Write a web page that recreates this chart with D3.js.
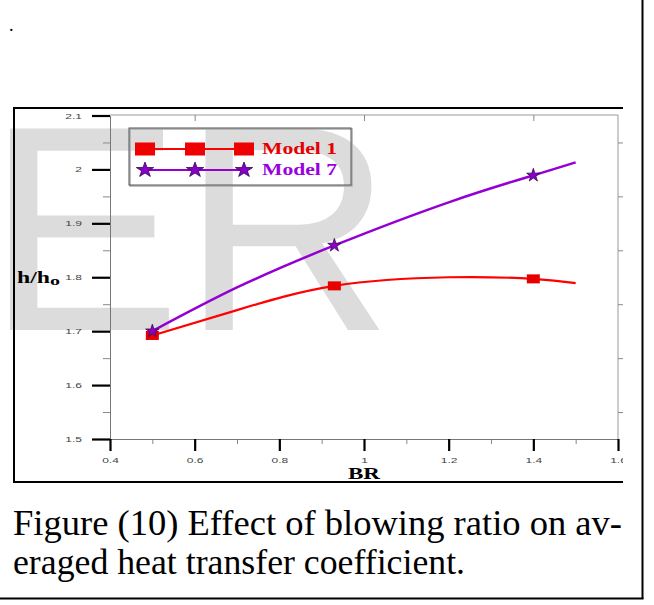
<!DOCTYPE html>
<html>
<head>
<meta charset="utf-8">
<script src="https://cdn.jsdelivr.net/npm/d3@7"></script>
<style>
  html, body { margin: 0; padding: 0; background: #fff; }
  svg { display: block; }
</style>
</head>
<body>
<div id="chart"></div>
<script>
// blowing ratio chart (Model 1 vs Model 7)

// marker points
const brPoints = [0.5, 0.93, 1.4];
const model1Points = [1.692, 1.784, 1.797];
const model7Points = [1.700, 1.859, 1.989];

// fitted curves
const brCurve = [0.5, 0.7, 0.93, 1.2, 1.4, 1.5];
const model1Curve = [1.692, 1.739, 1.784, 1.800, 1.797, 1.789];
const model7Curve = [1.700, 1.781, 1.859, 1.939, 1.989, 2.013];

const seriesNames = ["Model 1", "Model 7"];
const xTicks = [0.4, 0.6, 0.8, 1, 1.2, 1.4, 1.6];
const xMinorTicks = [0.5, 0.7, 0.9, 1.1, 1.3, 1.5];
const xTopTicks = [0.6, 1, 1.4];
const yTicks = [1.5, 1.6, 1.7, 1.8, 1.9, 2, 2.1];
const yMinorTicks = [1.55, 1.65, 1.75, 1.85, 1.95, 2.05];
const captionLines = ["Figure (10) Effect of blowing ratio on av-", "eraged heat transfer coefficient."];

const W = 654, H = 605;
const red = "#ff0000", purple = "#9400d3";
const serif = "'Liberation Serif', 'Times New Roman', Times, serif";
const sans = "'Liberation Sans', Arial, Helvetica, sans-serif";
const sx = 1.5; // the source picture is stretched sideways

const svg = d3.select("#chart").append("svg")
    .attr("width", W)
    .attr("height", H);

// page frame
svg.append("line").attr("x1", 642.5).attr("x2", 642.5).attr("y1", 0).attr("y2", 599)
    .attr("stroke", "#000").attr("stroke-width", 2);
svg.append("line").attr("x1", 0).attr("x2", 643.5).attr("y1", 598.5).attr("y2", 598.5)
    .attr("stroke", "#000").attr("stroke-width", 2);

svg.append("text")
    .attr("x", 9).attr("y", 31)
    .style("font-family", serif)
    .style("font-size", "18px")
    .text(".");

// chart box (cut off at the right)
svg.append("defs").append("clipPath").attr("id", "boxClip")
  .append("rect").attr("x", 0).attr("y", 100).attr("width", 623).attr("height", 390);

const box = svg.append("g").attr("clip-path", "url(#boxClip)");

// watermark
box.append("text")
    .attr("x", -14).attr("y", 330)
    .style("font-family", sans)
    .style("font-size", "293px")
    .style("fill", "#dcdcdc")
    .text("ER");

box.append("path")
    .attr("d", "M623,108 H14 V482 H623")
    .attr("fill", "none")
    .attr("stroke", "#000")
    .attr("stroke-width", 2);

const x = d3.scaleLinear().domain([0.4, 1.6]).range([110, 618]);
const y = d3.scaleLinear().domain([1.5, 2.1]).range([439, 115.5]);

// frame lines top and right
box.append("line").attr("x1", 110).attr("x2", 618).attr("y1", 115).attr("y2", 115)
    .attr("stroke", "#999");
box.append("line").attr("x1", 618).attr("x2", 618).attr("y1", 115).attr("y2", 439)
    .attr("stroke", "#999");

// minor ticks first
box.append("g").attr("transform", "translate(110,0)")
    .call(d3.axisLeft(y).tickValues(yMinorTicks).tickSize(7).tickFormat(""))
    .call(g => g.select(".domain").remove())
    .selectAll("line").attr("stroke", "#888");

box.append("g").attr("transform", "translate(618,0)")
    .call(d3.axisLeft(y).tickValues(yMinorTicks).tickSize(-9).tickFormat(""))
    .call(g => g.select(".domain").remove())
    .selectAll("line").attr("stroke", "#888");

box.append("g").attr("transform", "translate(0,439)")
    .call(d3.axisBottom(x).tickValues(xMinorTicks).tickSize(5).tickFormat(""))
    .call(g => g.select(".domain").remove())
    .selectAll("line").attr("stroke", "#888");

box.append("g").attr("transform", "translate(0,115)")
    .call(d3.axisTop(x).tickValues(xTopTicks).tickSize(-6).tickFormat(""))
    .call(g => g.select(".domain").remove())
    .selectAll("line").attr("stroke", "#888");

// major axes
const yAxisGroup = box.append("g").attr("transform", "translate(110,0)")
    .call(d3.axisLeft(y).tickValues(yTicks).tickSize(18).tickSizeOuter(0).tickFormat(d3.format("")));
yAxisGroup.select(".domain").attr("stroke", "#777");
yAxisGroup.selectAll(".tick line").attr("stroke", "#000").attr("stroke-width", 2.2);
yAxisGroup.selectAll("text")
    .attr("x", -28 / sx)
    .attr("transform", `scale(${sx},1)`)
    .style("font-family", sans)
    .style("font-size", "8px")
    .style("fill", "#444");

const xAxisGroup = box.append("g").attr("transform", "translate(0,439)")
    .call(d3.axisBottom(x).tickValues(xTicks).tickSize(12).tickSizeOuter(0).tickFormat(d3.format("")));
xAxisGroup.select(".domain").attr("stroke", "#777");
xAxisGroup.selectAll(".tick line").attr("stroke", "#000").attr("stroke-width", 2.2);
xAxisGroup.selectAll("text")
    .attr("y", 18)
    .attr("transform", `scale(${sx},1)`)
    .style("font-family", sans)
    .style("font-size", "8px")
    .style("fill", "#444");

// axis titles
const yTitle = box.append("text")
    .attr("x", 17).attr("y", 283)
    .style("font-family", serif)
    .style("font-weight", "bold")
    .style("font-size", "16px");
yTitle.append("tspan").attr("textLength", 33).attr("lengthAdjust", "spacingAndGlyphs").text("h/h");
yTitle.append("tspan").attr("dy", 2).style("font-size", "13px")
    .attr("textLength", 10).attr("lengthAdjust", "spacingAndGlyphs").text("o");

box.append("text")
    .attr("x", 348).attr("y", 479)
    .attr("textLength", 32).attr("lengthAdjust", "spacingAndGlyphs")
    .style("font-family", serif)
    .style("font-weight", "bold")
    .style("font-size", "16px")
    .text("BR");

// curves
const line = d3.line().curve(d3.curveNatural);

box.append("path")
    .attr("d", line(brCurve.map((b, i) => [x(b), y(model1Curve[i])])))
    .attr("fill", "none").attr("stroke", red).attr("stroke-width", 2.2);

box.append("path")
    .attr("d", line(brCurve.map((b, i) => [x(b), y(model7Curve[i])])))
    .attr("fill", "none").attr("stroke", purple).attr("stroke-width", 2.5);

box.selectAll("rect.m1")
    .data(brPoints.map((b, i) => [b, model1Points[i]]))
    .join("rect")
    .attr("class", "m1")
    .attr("x", d => x(d[0]) - 6.5)
    .attr("y", d => y(d[1]) - 4.5)
    .attr("width", 13).attr("height", 9)
    .attr("fill", "#e80000");

const star = d3.symbol(d3.symbolStar, 55);
box.selectAll("path.m7")
    .data(brPoints.map((b, i) => [b, model7Points[i]]))
    .join("path")
    .attr("class", "m7")
    .attr("transform", d => `translate(${x(d[0])},${y(d[1])})`)
    .attr("d", star)
    .attr("fill", "#8a00c8")
    .attr("stroke", "#3a0a55")
    .attr("stroke-width", 0.8);

// legend
const legend = box.append("g");
legend.append("rect")
    .attr("x", 130).attr("y", 129).attr("width", 222).attr("height", 57)
    .attr("fill", "none").attr("stroke", "#aaa").attr("stroke-width", 1.5);
legend.append("rect")
    .attr("x", 129).attr("y", 128).attr("width", 222).attr("height", 57)
    .attr("fill", "none").attr("stroke", "#555").attr("stroke-width", 1);

const legendX = [145, 195, 244];
const legendRows = [
    { name: seriesNames[0], y: 149, color: red, text: "#e60000", base: 154 },
    { name: seriesNames[1], y: 170, color: purple, text: "#9a00e0", base: 175 }
];

legendRows.forEach((r, i) => {
    legend.append("line")
        .attr("x1", legendX[0]).attr("x2", legendX[2])
        .attr("y1", r.y).attr("y2", r.y)
        .attr("stroke", r.color).attr("stroke-width", 2);
    legendX.forEach(lx => {
        if (i === 0) {
            legend.append("rect")
                .attr("x", lx - 10).attr("y", r.y - 6.5)
                .attr("width", 20).attr("height", 13)
                .attr("fill", "#f00000");
        } else {
            legend.append("path")
                .attr("transform", `translate(${lx},${r.y}) scale(1.15,1)`)
                .attr("d", d3.symbol(d3.symbolStar, 70))
                .attr("fill", "#8a00c8")
                .attr("stroke", "#3a0a55")
                .attr("stroke-width", 0.8);
        }
    });
    legend.append("text")
        .attr("x", 262).attr("y", r.base)
        .attr("textLength", 75).attr("lengthAdjust", "spacingAndGlyphs")
        .style("font-family", serif)
        .style("font-weight", "bold")
        .style("font-size", "17px")
        .style("fill", r.text)
        .text(r.name);
});

// caption
const capWidths = [609, 452];
svg.selectAll("text.caption")
    .data(captionLines)
    .join("text")
    .attr("class", "caption")
    .attr("x", 13)
    .attr("y", (d, i) => 535 + i * 39)
    .attr("textLength", (d, i) => capWidths[i])
    .attr("lengthAdjust", "spacingAndGlyphs")
    .style("font-family", serif)
    .style("font-size", "35px")
    .style("fill", "#000")
    .text(d => d);
</script>
</body>
</html>
